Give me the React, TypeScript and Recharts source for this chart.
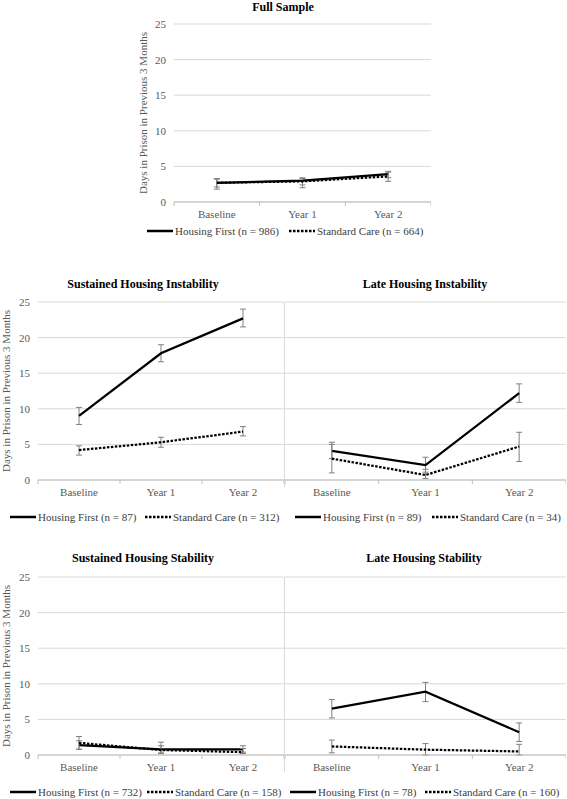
import { CartesianGrid, ErrorBar, Line, LineChart, XAxis, YAxis } from "recharts";

const categories = ["Baseline", "Year 1", "Year 2"];
const yTicks = [0, 5, 10, 15, 20, 25];
const xTicks = [0, 0.5, 1, 1.5, 2, 2.5, 3];

// Full Sample
const fullHF = [2.7, 3.0, 3.9];
const fullHFLow = [2.1, 2.4, 3.4];
const fullHFHigh = [3.3, 3.4, 4.3];
const fullSC = [2.7, 2.9, 3.6];
const fullSCLow = [1.8, 2.0, 2.9];
const fullSCHigh = [3.2, 3.3, 4.2];

// Sustained Housing Instability
const susInstHF = [9.0, 17.8, 22.7];
const susInstHFLow = [7.8, 16.6, 21.5];
const susInstHFHigh = [10.2, 19.0, 24.0];
const susInstSC = [4.2, 5.3, 6.8];
const susInstSCLow = [3.5, 4.6, 6.2];
const susInstSCHigh = [4.8, 6.0, 7.5];

// Late Housing Instability
const lateInstHF = [4.1, 2.1, 12.2];
const lateInstHFLow = [3.0, 1.1, 10.9];
const lateInstHFHigh = [5.3, 3.2, 13.5];
const lateInstSC = [3.0, 0.7, 4.7];
const lateInstSCLow = [1.0, 0.2, 2.6];
const lateInstSCHigh = [5.0, 1.5, 6.7];

// Sustained Housing Stability
const susStabHF = [1.4, 0.8, 0.8];
const susStabHFLow = [0.8, 0.3, 0.4];
const susStabHFHigh = [2.0, 1.3, 1.3];
const susStabSC = [1.7, 0.7, 0.4];
const susStabSCLow = [0.8, 0.2, 0.2];
const susStabSCHigh = [2.6, 1.8, 0.9];

// Late Housing Stability
const lateStabHF = [6.5, 8.9, 3.2];
const lateStabHFLow = [5.2, 7.5, 1.9];
const lateStabHFHigh = [7.8, 10.2, 4.5];
const lateStabSC = [1.2, 0.75, 0.5];
const lateStabSCLow = [0.3, 0.0, 0.0];
const lateStabSCHigh = [2.1, 1.6, 1.5];

const TEXT = "#595959";
const GRID = "#d9d9d9";
const AXIS = "#bfbfbf";
const ERR = "#808080";
const FONT = "'Liberation Serif', 'Times New Roman', serif";
const Y_TITLE = "Days in Prison in Previous 3 Months";
const PLOT_H = 178;
const PAD = 10;

function buildRows(hf: number[], hfLo: number[], hfHi: number[], sc: number[], scLo: number[], scHi: number[]) {
  return categories.map((c, i) => ({
    x: i + 0.5,
    name: c,
    hf: hf[i],
    hfErr: [hf[i] - hfLo[i], hfHi[i] - hf[i]],
    sc: sc[i],
    scErr: [sc[i] - scLo[i], scHi[i] - sc[i]],
  }));
}

function BandTick(props: any) {
  const { x, y, payload } = props;
  const v = payload.value as number;
  if (Number.isInteger(v)) {
    return <line x1={x} x2={x} y1={y - 8} y2={y - 4} stroke={AXIS} />;
  }
  return (
    <text x={x} y={y} dy="0.71em" textAnchor="middle" fill={TEXT} fontSize={11} fontFamily={FONT}>
      {categories[Math.floor(v)]}
    </text>
  );
}

function Panel({
  rows,
  left,
  top,
  width,
  axisWidth,
  labelOffset,
}: {
  rows: any[];
  left: number;
  top: number;
  width: number;
  axisWidth: number;
  labelOffset?: number;
}) {
  const showY = axisWidth > 0;
  return (
    <div style={{ position: "absolute", left, top: top - PAD }}>
      <LineChart
        width={width}
        height={PLOT_H + PAD + 30}
        data={rows}
        margin={{ top: PAD, right: 0, bottom: 0, left: 0 }}
      >
        <CartesianGrid vertical={false} stroke={GRID} />
        <XAxis
          dataKey="x"
          type="number"
          domain={[0, 3]}
          ticks={xTicks}
          interval={0}
          tickLine={false}
          tickSize={0}
          tickMargin={8}
          axisLine={{ stroke: AXIS }}
          tick={(p: any) => <BandTick {...p} />}
          height={30}
        />
        <YAxis
          domain={[0, 25]}
          ticks={yTicks}
          interval={0}
          width={showY ? axisWidth : 0}
          hide={!showY}
          axisLine={false}
          tickLine={false}
          tick={{ fill: TEXT, fontSize: 11, fontFamily: FONT }}
          label={
            showY
              ? {
                  value: Y_TITLE,
                  angle: -90,
                  position: "insideLeft",
                  offset: labelOffset,
                  style: { textAnchor: "middle", fill: TEXT, fontSize: 11, fontFamily: FONT },
                }
              : undefined
          }
        />
        <Line
          dataKey="hf"
          stroke="#000"
          strokeWidth={2.25}
          dot={false}
          activeDot={false}
          isAnimationActive={false}
        >
          <ErrorBar dataKey="hfErr" stroke={ERR} width={3} strokeWidth={1} isAnimationActive={false} />
        </Line>
        <Line
          dataKey="sc"
          stroke="#000"
          strokeWidth={2.25}
          strokeDasharray="2.5 1.5"
          dot={false}
          activeDot={false}
          isAnimationActive={false}
        >
          <ErrorBar dataKey="scErr" stroke={ERR} width={3} strokeWidth={1} isAnimationActive={false} />
        </Line>
      </LineChart>
    </div>
  );
}

function Title({ text, cx, cy }: { text: string; cx: number; cy: number }) {
  return (
    <div
      style={{
        position: "absolute",
        left: cx - 150,
        top: cy - 7,
        width: 300,
        lineHeight: "14px",
        textAlign: "center",
        fontWeight: "bold",
        fontSize: 12,
        fontFamily: FONT,
        color: "#000",
      }}
    >
      {text}
    </div>
  );
}

function LegendItem({ x, y, dotted, label }: { x: number; y: number; dotted?: boolean; label: string }) {
  return (
    <div
      style={{
        position: "absolute",
        left: x,
        top: y - 7,
        height: 14,
        display: "flex",
        alignItems: "center",
        whiteSpace: "nowrap",
        fontSize: 11,
        fontFamily: FONT,
        color: "#404040",
      }}
    >
      <svg width={26} height={14} style={{ display: "block" }}>
        <line
          x1={0}
          x2={26}
          y1={7}
          y2={7}
          stroke="#000"
          strokeWidth={2.5}
          strokeDasharray={dotted ? "2.5 1.5" : undefined}
        />
      </svg>
      <span style={{ marginLeft: 2, lineHeight: "14px" }}>{label}</span>
    </div>
  );
}

function Divider({ top, bottom }: { top: number; bottom: number }) {
  return (
    <div style={{ position: "absolute", left: 284, top, width: 1, height: bottom - top, background: GRID }} />
  );
}

export default function App() {
  return (
    <div
      style={{
        position: "absolute",
        left: 0,
        top: 0,
        width: 567,
        height: 799,
        background: "#fff",
        fontFamily: FONT,
        overflow: "hidden",
      }}
    >
      <Title text="Full Sample" cx={283} cy={7} />
      <Panel
        rows={buildRows(fullHF, fullHFLow, fullHFHigh, fullSC, fullSCLow, fullSCHigh)}
        left={130}
        top={24}
        width={301}
        axisWidth={44}
        labelOffset={13}
      />
      <LegendItem x={147} y={231} label="Housing First (n = 986)" />
      <LegendItem x={289} y={231} dotted label="Standard Care (n = 664)" />

      <Title text="Sustained Housing Instability" cx={143} cy={284} />
      <Panel
        rows={buildRows(susInstHF, susInstHFLow, susInstHFHigh, susInstSC, susInstSCLow, susInstSCHigh)}
        left={0}
        top={302}
        width={284}
        axisWidth={38}
        labelOffset={6}
      />
      <LegendItem x={10} y={517} label="Housing First (n = 87)" />
      <LegendItem x={145} y={517} dotted label="Standard Care (n = 312)" />

      <Title text="Late Housing Instability" cx={425} cy={284} />
      <Panel
        rows={buildRows(lateInstHF, lateInstHFLow, lateInstHFHigh, lateInstSC, lateInstSCLow, lateInstSCHigh)}
        left={285}
        top={302}
        width={281}
        axisWidth={0}
      />
      <LegendItem x={295} y={517} label="Housing First (n = 89)" />
      <LegendItem x={432} y={517} dotted label="Standard Care (n = 34)" />
      <Divider top={302} bottom={487} />

      <Title text="Sustained Housing Stability" cx={143} cy={558} />
      <Panel
        rows={buildRows(susStabHF, susStabHFLow, susStabHFHigh, susStabSC, susStabSCLow, susStabSCHigh)}
        left={0}
        top={577}
        width={284}
        axisWidth={38}
        labelOffset={6}
      />
      <LegendItem x={10} y={792} label="Housing First (n = 732)" />
      <LegendItem x={147} y={792} dotted label="Standard Care (n = 158)" />

      <Title text="Late Housing Stability" cx={424} cy={558} />
      <Panel
        rows={buildRows(lateStabHF, lateStabHFLow, lateStabHFHigh, lateStabSC, lateStabSCLow, lateStabSCHigh)}
        left={285}
        top={577}
        width={281}
        axisWidth={0}
      />
      <LegendItem x={290} y={792} label="Housing First (n = 78)" />
      <LegendItem x={425} y={792} dotted label="Standard Care (n = 160)" />
      <Divider top={577} bottom={772} />
    </div>
  );
}
